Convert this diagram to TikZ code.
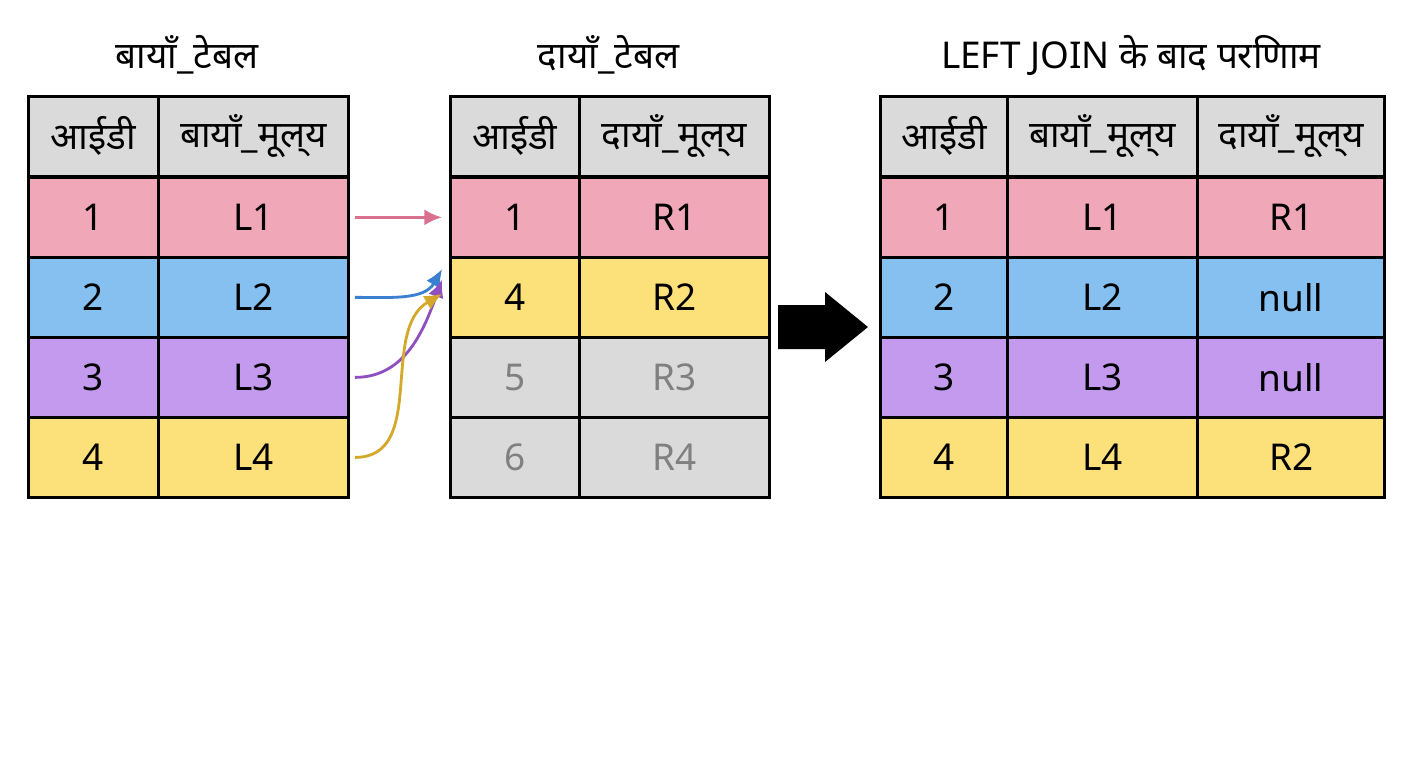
\documentclass[tikz,border=0pt]{standalone}
\usepackage{fontspec}
\setmainfont{Noto Sans}
\usetikzlibrary{arrows.meta,positioning}
\definecolor{RowPink}{HTML}{F0A7B8}
\definecolor{RowBlue}{HTML}{86C0F0}
\definecolor{RowPurple}{HTML}{C49AEE}
\definecolor{RowYellow}{HTML}{FCE07A}
\definecolor{RowGray}{HTML}{DADADA}
\definecolor{ArrPink}{HTML}{D9708F}
\definecolor{ArrBlue}{HTML}{3A7FD0}
\definecolor{ArrPurple}{HTML}{8E4FC0}
\definecolor{ArrYellow}{HTML}{D4A82A}
\tikzset{
  cell/.style={draw=black, line width=1.5pt, minimum height=1.6cm, inner sep=0pt,
    font=\fontsize{21}{25}\selectfont\bfseries},
  title/.style={font=\fontsize{21}{25}\selectfont\bfseries},
  link/.style={line width=1.6pt, -{Latex[length=10pt,width=9pt]}}
}
% cell: name, x-left, x-right, row-top (px), fill, text
\newcommand{\tcell}[6]{%
  \node[cell, fill=#5, minimum width={(#3-#2)*0.02cm}, anchor=north west]
    (#1) at ({#2*0.02},{-#4*0.02}) {#6};}
\begin{document}
\begin{tikzpicture}
  \useasboundingbox[fill=white] (0,0) rectangle (28.16,-15.36);
  % titles
  \node[title] (tl) at (3.74,-1.1) {बायाँ\_टेबल};
  \node[title] (tm) at (12.17,-1.1) {दायाँ\_टेबल};
  \node[title] (tr) at (22.62,-1.1) {LEFT JOIN के बाद परिणाम};
  % left table
  \tcell{lh1}{27}{157}{95}{RowGray}{आईडी}
  \tcell{lh2}{157}{347}{95}{RowGray}{बायाँ\_मूल्य}
  \foreach \r/\y/\c in {1/176/RowPink, 2/256/RowBlue, 3/336/RowPurple, 4/416/RowYellow} {
    \tcell{la\r}{27}{157}{\y}{\c}{\r}
    \tcell{lb\r}{157}{347}{\y}{\c}{L\r}
  }
  % right-side table
  \tcell{mh1}{449}{578}{95}{RowGray}{आईडी}
  \tcell{mh2}{578}{768}{95}{RowGray}{दायाँ\_मूल्य}
  \tcell{ma1}{449}{578}{176}{RowPink}{1}
  \tcell{mb1}{578}{768}{176}{RowPink}{R1}
  \tcell{ma2}{449}{578}{256}{RowYellow}{4}
  \tcell{mb2}{578}{768}{256}{RowYellow}{R2}
  \tcell{ma3}{449}{578}{336}{RowGray}{\textcolor{gray}{5}}
  \tcell{mb3}{578}{768}{336}{RowGray}{\textcolor{gray}{R3}}
  \tcell{ma4}{449}{578}{416}{RowGray}{\textcolor{gray}{6}}
  \tcell{mb4}{578}{768}{416}{RowGray}{\textcolor{gray}{R4}}
  % result table
  \tcell{rh1}{879}{1006}{95}{RowGray}{आईडी}
  \tcell{rh2}{1006}{1196}{95}{RowGray}{बायाँ\_मूल्य}
  \tcell{rh3}{1196}{1383}{95}{RowGray}{दायाँ\_मूल्य}
  \foreach \r/\y/\c/\v in {1/176/RowPink/R1, 2/256/RowBlue/null, 3/336/RowPurple/null, 4/416/RowYellow/R2} {
    \tcell{ra\r}{879}{1006}{\y}{\c}{\r}
    \tcell{rb\r}{1006}{1196}{\y}{\c}{L\r}
    \tcell{rc\r}{1196}{1383}{\y}{\c}{\v}
  }
  % matching links
  \coordinate (t1) at ([xshift=-4pt]ma1.west);
  \coordinate (t2) at ([xshift=-4pt,yshift=-12pt]ma1.south west);
  \coordinate (t4) at ([xshift=-4pt,yshift=2pt]ma2.west);
  \draw[link, ArrPink] ([xshift=3pt]lb1.east) -- (t1);
  \draw[link, ArrBlue] ([xshift=3pt]lb2.east) to[out=0, in=240] ([yshift=6pt]t2);
  \draw[link, ArrPurple] ([xshift=3pt]lb3.east) to[out=0, in=250] (t2);
  \draw[link, ArrYellow] ([xshift=3pt]lb4.east) to[out=0, in=210] (t4);
  % big arrow
  \fill[black] (15.56,-6.1) -- (16.5,-6.1) -- (16.5,-5.84) -- (17.36,-6.54)
    -- (16.5,-7.24) -- (16.5,-6.98) -- (15.56,-6.98) -- cycle;
\end{tikzpicture}
\end{document}
